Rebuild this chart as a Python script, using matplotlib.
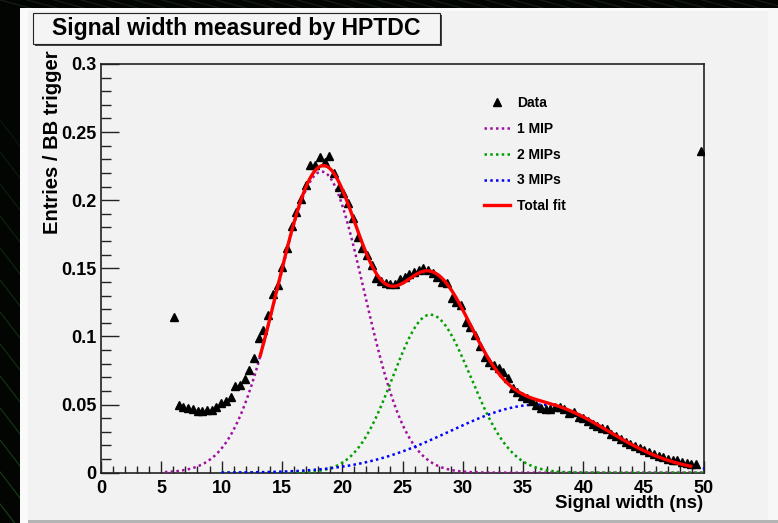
import numpy as np
import matplotlib.pyplot as plt
from matplotlib.patches import Rectangle
from matplotlib.lines import Line2D

plt.rcParams["font.family"] = ["Liberation Sans", "DejaVu Sans"]
plt.rcParams["font.weight"] = "bold"

# histogram of signal widths, 0.39 ns bins (last bin is the overflow)
BIN_START = 6.06
BIN_WIDTH = 0.39
entries = [
    0.1140, 0.0497, 0.0484, 0.0477, 0.0465, 0.0455, 0.0452, 0.0458, 0.0462, 0.0484,
    0.0508, 0.0528, 0.0553, 0.0636, 0.0643, 0.0687, 0.0753, 0.0839, 0.0990, 0.1045,
    0.1157, 0.1310, 0.1380, 0.1510, 0.1650, 0.1810, 0.1910, 0.2006, 0.2110, 0.2257,
    0.2262, 0.2314, 0.2280, 0.2323, 0.2200, 0.2098, 0.2050, 0.1977, 0.1867, 0.1727,
    0.1650, 0.1597, 0.1524, 0.1430, 0.1410, 0.1390, 0.1384, 0.1384, 0.1420, 0.1438,
    0.1458, 0.1475, 0.1487, 0.1500, 0.1490, 0.1467, 0.1440, 0.1400, 0.1390, 0.1280,
    0.1250, 0.1230, 0.1108, 0.1070, 0.1010, 0.0930, 0.0850, 0.0814, 0.0790, 0.0766,
    0.0740, 0.0692, 0.0620, 0.0590, 0.0565, 0.0546, 0.0525, 0.0500, 0.0475, 0.0470,
    0.0470, 0.0485, 0.0480, 0.0470, 0.0438, 0.0448, 0.0412, 0.0400, 0.0378, 0.0355,
    0.0340, 0.0330, 0.0318, 0.0285, 0.0272, 0.0250, 0.0228, 0.0214, 0.0195, 0.0182,
    0.0170, 0.0150, 0.0135, 0.0125, 0.0112, 0.0102, 0.0093, 0.0090, 0.0080, 0.0069,
    0.0064, 0.0062, 0.2360,
]

# fitted components: amplitude, mean, sigma below mean, sigma above mean, range
MIP1 = (0.221, 18.3, 3.7, 3.5, (5.3, 50.0))
MIP2 = (0.116, 27.3, 3.1, 3.35, (10.0, 50.0))
MIP3 = (0.050, 36.3, 7.4, 5.8, (10.0, 50.0))
TOTAL_RANGE = (13.2, 48.9)


def bigauss(x, amp, mu, s_lo, s_hi):
    s = np.where(x < mu, s_lo, s_hi)
    return amp * np.exp(-0.5 * ((x - mu) / s) ** 2)


W, H = 778, 523
fig = plt.figure(figsize=(W / 100, H / 100), dpi=100, facecolor="#030503")


def fx(px):
    return px / W


def fy(py):
    return 1 - py / H


# dark slide background with green streaks
for i in range(14):
    y0 = 120 + i * 32
    fig.add_artist(Line2D([fx(0), fx(20)], [fy(y0), fy(y0 + 26)], color="#1f5a1f",
                          lw=0.8, alpha=0.25 + 0.04 * i, zorder=0))
for i in range(30):
    x0 = i * 27
    fig.add_artist(Line2D([fx(x0), fx(x0 + 30)], [fy(0), fy(8)], color="#2a3a2a",
                          lw=0.8, alpha=0.5, zorder=0))

# canvas panel with bevel edges
fig.add_artist(Rectangle((fx(20), 0), 1 - fx(20), fy(8), transform=fig.transFigure,
                         facecolor="#f2f2f2", edgecolor="none", zorder=1))
fig.add_artist(Rectangle((fx(20), 0), fx(8), fy(8), transform=fig.transFigure,
                         facecolor="#fafafa", edgecolor="none", zorder=1))
fig.add_artist(Rectangle((fx(20), fy(11)), 1 - fx(20), fy(8) - fy(11), transform=fig.transFigure,
                         facecolor="#fafafa", edgecolor="none", zorder=1))
fig.add_artist(Rectangle((fx(768), 0), fx(10), fy(8), transform=fig.transFigure,
                         facecolor="#f7f7f7", edgecolor="none", zorder=1))
fig.add_artist(Rectangle((fx(28), 0), 1 - fx(28), fy(520), transform=fig.transFigure,
                         facecolor="#b4b4b4", edgecolor="none", zorder=1))

# title box with shadow
fig.add_artist(Rectangle((fx(35), fy(46)), fx(407), fy(13) - fy(44), transform=fig.transFigure,
                         facecolor="#444444", edgecolor="none", zorder=2))
fig.add_artist(Rectangle((fx(33), fy(44)), fx(407), fy(13) - fy(44), transform=fig.transFigure,
                         facecolor="#f4f4f4", edgecolor="#222222", lw=0.8, zorder=3))
fig.text(fx(236), fy(28.5), "Signal width measured by HPTDC", ha="center", va="center",
         fontsize=16.6, fontweight="bold", zorder=4)

ax = fig.add_axes([fx(101), fy(472.7), fx(704) - fx(101), fy(64) - fy(472.7)])
ax.set_facecolor("#f2f2f2")
ax.set_zorder(5)

x = BIN_START + BIN_WIDTH * np.arange(len(entries))

colors = ["#a010a0", "#00a000", "#0000ff"]
labels = ["1 MIP", "2 MIPs", "3 MIPs"]
total_x = np.linspace(*TOTAL_RANGE, 500)
total_y = np.zeros_like(total_x)
for (amp, mu, s_lo, s_hi, rng), c, lab in zip([MIP1, MIP2, MIP3], colors, labels):
    xs = np.linspace(*rng, 500)
    ax.plot(xs, bigauss(xs, amp, mu, s_lo, s_hi), color=c, lw=1.8,
            linestyle=(0, (1, 1.3)), label=lab, zorder=3)
    total_y += bigauss(total_x, amp, mu, s_lo, s_hi)

ax.plot(x, entries, linestyle="none", marker="^", color="black", markersize=5.5,
        label="Data", zorder=4)
ax.plot(total_x, total_y, color="#ff0000", lw=2.4, label="Total fit", zorder=5)

ax.set_xlim(0, 50)
ax.set_ylim(0, 0.3)
ax.set_xticks(np.arange(0, 51, 5))
ax.set_xticks(np.arange(0, 51, 1), minor=True)
ax.set_yticks([0, 0.05, 0.1, 0.15, 0.2, 0.25, 0.3])
ax.set_yticklabels(["0", "0.05", "0.1", "0.15", "0.2", "0.25", "0.3"])
ax.set_yticks(np.arange(0, 0.301, 0.01), minor=True)
ax.tick_params(axis="x", which="major", direction="in", length=9, width=1, pad=5,
               labelsize=13, color="#222222")
ax.tick_params(axis="x", which="minor", direction="in", length=5, width=1, color="#222222")
ax.tick_params(axis="y", which="major", direction="in", length=13, width=1, pad=3,
               labelsize=13, color="#222222")
ax.tick_params(axis="y", which="minor", direction="in", length=7, width=1, color="#222222")
for lbl in ax.get_xticklabels() + ax.get_yticklabels():
    lbl.set_fontweight("bold")
for sp in ax.spines.values():
    sp.set_color("#222222")
    sp.set_linewidth(1.2)

fig.text(fx(703), fy(504), "Signal width (ns)", ha="right", va="center",
         fontsize=13.4, fontweight="bold")
fig.text(fx(53), fy(50), "Entries / BB trigger", ha="center", va="top", rotation=90,
         fontsize=14.5, fontweight="bold")

handles, names = ax.get_legend_handles_labels()
order = [names.index(n) for n in ["Data", "1 MIP", "2 MIPs", "3 MIPs", "Total fit"]]
ax.legend([handles[i] for i in order], [names[i] for i in order], frameon=False,
          loc="upper left", bbox_to_anchor=(fx(484), fy(96)), bbox_transform=fig.transFigure,
          borderpad=0, borderaxespad=0, handlelength=1.9, handletextpad=0.5,
          labelspacing=0.85, prop={"size": 10, "weight": "bold"})

fig.savefig("out.png", dpi=100, facecolor=fig.get_facecolor())
